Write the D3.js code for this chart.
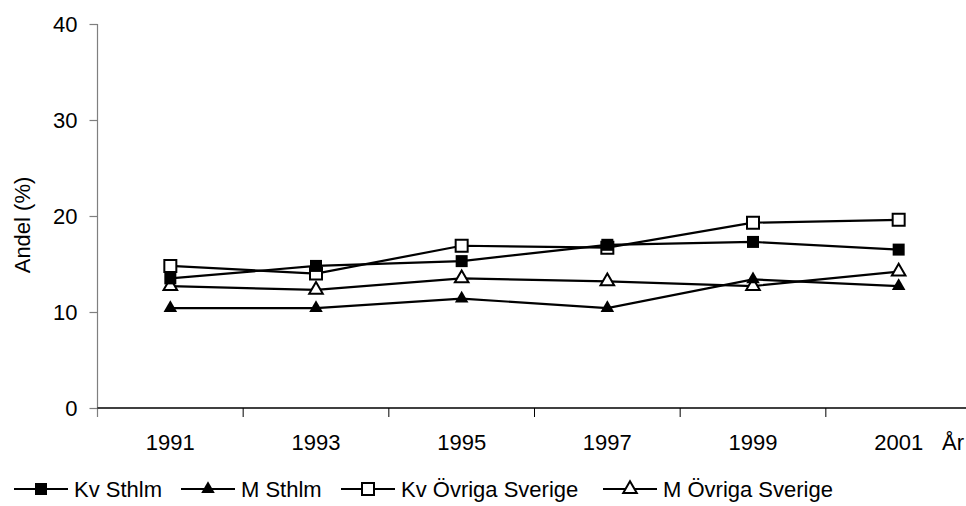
<!DOCTYPE html>
<html>
<head>
<meta charset="utf-8">
<script src="https://cdn.jsdelivr.net/npm/d3@7"></script>
<style>
  html, body { margin: 0; padding: 0; background: #fff; }
  svg { display: block; font-family: "Liberation Sans", Arial, sans-serif; }
</style>
</head>
<body>
<svg id="chart" width="966" height="506"></svg>
<script>
// Years on the category axis
const years = ["1991", "1993", "1995", "1997", "1999", "2001"];

// Share (%) per series
const kvSthlm   = [13.5, 14.8, 15.3, 17.0, 17.3, 16.5];
const mSthlm    = [10.4, 10.4, 11.4, 10.4, 13.4, 12.7];
const kvOvriga  = [14.8, 14.0, 16.9, 16.7, 19.3, 19.6];
const mOvriga   = [12.7, 12.3, 13.5, 13.2, 12.7, 14.2];

const yTicks = [0, 10, 20, 30, 40];

const series = [
  { name: "Kv Sthlm",          values: kvSthlm,  shape: "square",   filled: true  },
  { name: "M Sthlm",           values: mSthlm,   shape: "triangle", filled: true  },
  { name: "Kv Övriga Sverige", values: kvOvriga, shape: "square",   filled: false },
  { name: "M Övriga Sverige",  values: mOvriga,  shape: "triangle", filled: false }
];

const svg = d3.select("#chart");
const fontSize = 22;

const x = d3.scaleBand().domain(years).range([97.5, 971.5]).padding(0);
const y = d3.scaleLinear().domain([0, 40]).range([408, 24]);

// Y axis
const yAxis = d3.axisLeft(y).tickValues(yTicks).tickSize(8).tickPadding(12);
const gy = svg.append("g").attr("transform", "translate(97.5,0)").call(yAxis);
gy.select(".domain").attr("stroke", "#7f7f7f").attr("stroke-width", 1.2)
  .attr("d", `M0,${y(40)}V${y(0) + 9}`);
gy.selectAll(".tick line").attr("stroke", "#7f7f7f").attr("stroke-width", 1.2);
gy.selectAll(".tick text").attr("font-size", fontSize).attr("fill", "#000")
  .attr("font-family", "Liberation Sans, Arial, sans-serif");

// X axis: labels centred in each band, ticks at band boundaries
const xAxis = d3.axisBottom(x).tickSizeInner(0).tickSizeOuter(0).tickPadding(0);
const gx = svg.append("g").attr("transform", `translate(0,${y(0)})`).call(xAxis);
gx.select(".domain").remove();
gx.selectAll(".tick line").remove();
gx.selectAll(".tick text").attr("font-size", fontSize).attr("fill", "#000")
  .attr("dy", null).attr("y", 42)
  .attr("font-family", "Liberation Sans, Arial, sans-serif");

svg.append("line")
  .attr("x1", x.range()[0]).attr("x2", x.range()[1])
  .attr("y1", y(0)).attr("y2", y(0))
  .attr("stroke", "#000").attr("stroke-width", 1.5);

svg.append("g").selectAll("line")
  .data(years.slice(1))
  .join("line")
  .attr("x1", d => x(d)).attr("x2", d => x(d))
  .attr("y1", y(0)).attr("y2", y(0) + 9)
  .attr("stroke", "#000").attr("stroke-width", 1);

// Axis titles
svg.append("text")
  .attr("x", 942).attr("y", y(0) + 42)
  .attr("font-size", fontSize).text("År");

svg.append("text")
  .attr("transform", "translate(30,225) rotate(-90)")
  .attr("text-anchor", "middle")
  .attr("font-size", fontSize).text("Andel (%)");

// Marker symbols
const sq = d3.symbol().type(d3.symbolSquare).size(144);
const tri = d3.symbol().type(d3.symbolTriangle).size(80);

function drawMarker(g, s, cx, cy) {
  g.append("path")
    .attr("d", s.shape === "square" ? sq() : tri())
    .attr("transform", `translate(${cx},${cy})`)
    .attr("fill", s.filled ? "#000" : "#fff")
    .attr("stroke", "#000")
    .attr("stroke-width", s.filled ? 0 : 2);
}

const cx = d => x(d) + x.bandwidth() / 2;
const line = d3.line().x((v, i) => cx(years[i])).y(v => y(v));

// Lines
const gl = svg.append("g");
series.forEach(s => {
  gl.append("path").attr("d", line(s.values))
    .attr("fill", "none").attr("stroke", "#000").attr("stroke-width", 2.2);
});

// Markers: hollow series below the filled ones
const gm = svg.append("g");
series.slice().reverse().forEach(s => {
  s.values.forEach((v, i) => drawMarker(gm, s, cx(years[i]), y(v)));
});

// Legend
const legendY = 489;
const legendX = [14, 181, 341, 603];
const lg = svg.append("g");
series.forEach((s, i) => {
  const x0 = legendX[i];
  lg.append("line").attr("x1", x0).attr("x2", x0 + 54)
    .attr("y1", legendY).attr("y2", legendY)
    .attr("stroke", "#000").attr("stroke-width", 2);
  drawMarker(lg, s, x0 + 27, legendY);
  lg.append("text").attr("x", x0 + 60).attr("y", legendY + 8)
    .attr("font-size", fontSize).text(s.name);
});
</script>
</body>
</html>
